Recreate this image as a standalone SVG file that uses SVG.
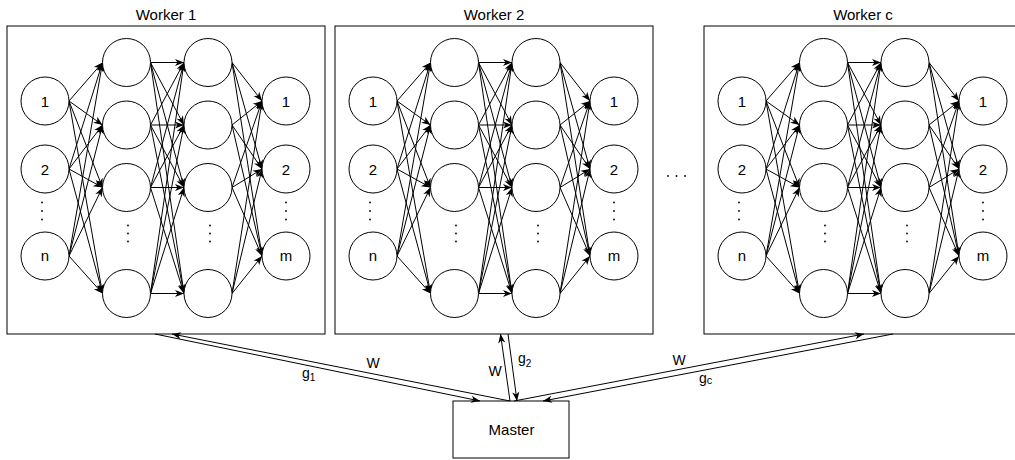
<svg xmlns="http://www.w3.org/2000/svg" width="1015" height="460" viewBox="0 0 1015 460">
  <defs>
    <style>
      .box { fill: #ffffff; stroke: #000000; stroke-width: 1; }
      .node circle { fill: #ffffff; stroke: #000000; stroke-width: 1; }
      .e { fill: none; stroke: #000000; stroke-width: 1; marker-end: url(#arr); }
      text { font-family: "Liberation Sans", Arial, Helvetica, sans-serif; fill: #000000; }
      .title { font-size: 15px; text-anchor: middle; }
      .lbl { font-size: 15px; text-anchor: middle; }
      .wl { font-size: 14px; }
      .dot { fill: #000000; }
    </style>
    <marker id="arr" viewBox="-10 -5 11 10" refX="0" refY="0" markerWidth="11" markerHeight="10" markerUnits="userSpaceOnUse" orient="auto">
      <path d="M0,0 L-9,-3.6 L-6.5,0 L-9,3.6 Z" fill="#000000"/>
    </marker>
  </defs>

  <rect width="1015" height="460" fill="#ffffff"/>

  <!-- Worker 1 -->
  <g id="worker-1" transform="translate(7,0)">
    <rect class="box" x="0" y="26" width="318" height="308"/>
    <text class="title" x="159" y="19.5">Worker 1</text>
    <g id="w1-edges">
      <path class="e" d="M62 101L95.5 62.5"/><path class="e" d="M62 101L95.5 125"/><path class="e" d="M62 101L95.5 187.5"/><path class="e" d="M62 101L95.5 293.5"/>
      <path class="e" d="M62 169L95.5 62.5"/><path class="e" d="M62 169L95.5 125"/><path class="e" d="M62 169L95.5 187.5"/><path class="e" d="M62 169L95.5 293.5"/>
      <path class="e" d="M62 256L95.5 62.5"/><path class="e" d="M62 256L95.5 125"/><path class="e" d="M62 256L95.5 187.5"/><path class="e" d="M62 256L95.5 293.5"/>
      <path class="e" d="M143.5 62.5L177 62.5"/><path class="e" d="M143.5 62.5L177 125"/><path class="e" d="M143.5 62.5L177 187.5"/><path class="e" d="M143.5 62.5L177 293.5"/>
      <path class="e" d="M143.5 125L177 62.5"/><path class="e" d="M143.5 125L177 125"/><path class="e" d="M143.5 125L177 187.5"/><path class="e" d="M143.5 125L177 293.5"/>
      <path class="e" d="M143.5 187.5L177 62.5"/><path class="e" d="M143.5 187.5L177 125"/><path class="e" d="M143.5 187.5L177 187.5"/><path class="e" d="M143.5 187.5L177 293.5"/>
      <path class="e" d="M143.5 293.5L177 62.5"/><path class="e" d="M143.5 293.5L177 125"/><path class="e" d="M143.5 293.5L177 187.5"/><path class="e" d="M143.5 293.5L177 293.5"/>
      <path class="e" d="M225 62.5L255 101"/><path class="e" d="M225 62.5L255 169"/><path class="e" d="M225 62.5L255 256"/>
      <path class="e" d="M225 125L255 101"/><path class="e" d="M225 125L255 169"/><path class="e" d="M225 125L255 256"/>
      <path class="e" d="M225 187.5L255 101"/><path class="e" d="M225 187.5L255 169"/><path class="e" d="M225 187.5L255 256"/>
      <path class="e" d="M225 293.5L255 101"/><path class="e" d="M225 293.5L255 169"/><path class="e" d="M225 293.5L255 256"/>
    </g>
    <g id="w1-in-1" class="node"><circle cx="38" cy="101" r="24"/><text class="lbl" x="38" y="106.5">1</text></g>
    <g id="w1-in-2" class="node"><circle cx="38" cy="169" r="24"/><text class="lbl" x="38" y="174.5">2</text></g>
    <g id="w1-in-n" class="node"><circle cx="38" cy="256" r="24"/><text class="lbl" x="38" y="261">n</text></g>
    <g id="w1-h1-1" class="node"><circle cx="119.5" cy="62.5" r="24"/></g>
    <g id="w1-h1-2" class="node"><circle cx="119.5" cy="125" r="24"/></g>
    <g id="w1-h1-3" class="node"><circle cx="119.5" cy="187.5" r="24"/></g>
    <g id="w1-h1-k" class="node"><circle cx="119.5" cy="293.5" r="24"/></g>
    <g id="w1-h2-1" class="node"><circle cx="201" cy="62.5" r="24"/></g>
    <g id="w1-h2-2" class="node"><circle cx="201" cy="125" r="24"/></g>
    <g id="w1-h2-3" class="node"><circle cx="201" cy="187.5" r="24"/></g>
    <g id="w1-h2-k" class="node"><circle cx="201" cy="293.5" r="24"/></g>
    <g id="w1-out-1" class="node"><circle cx="279" cy="101" r="24"/><text class="lbl" x="279" y="106.5">1</text></g>
    <g id="w1-out-2" class="node"><circle cx="279" cy="169" r="24"/><text class="lbl" x="279" y="174.5">2</text></g>
    <g id="w1-out-m" class="node"><circle cx="279" cy="256" r="24"/><text class="lbl" x="279" y="261">m</text></g>
    <g id="w1-ellipses">
      <circle class="dot" cx="35" cy="202.5" r="0.9"/><circle class="dot" cx="35" cy="211" r="0.9"/><circle class="dot" cx="35" cy="219.5" r="0.9"/>
      <circle class="dot" cx="121" cy="225.5" r="0.9"/><circle class="dot" cx="121" cy="233.5" r="0.9"/><circle class="dot" cx="121" cy="241.5" r="0.9"/>
      <circle class="dot" cx="203" cy="225.5" r="0.9"/><circle class="dot" cx="203" cy="233.5" r="0.9"/><circle class="dot" cx="203" cy="241.5" r="0.9"/>
      <circle class="dot" cx="279" cy="202.5" r="0.9"/><circle class="dot" cx="279" cy="211" r="0.9"/><circle class="dot" cx="279" cy="219.5" r="0.9"/>
    </g>
  </g>

  <!-- Worker 2 -->
  <g id="worker-2" transform="translate(335,0)">
    <rect class="box" x="0" y="26" width="318" height="308"/>
    <text class="title" x="159" y="19.5">Worker 2</text>
    <g id="w2-edges">
      <path class="e" d="M62 101L95.5 62.5"/><path class="e" d="M62 101L95.5 125"/><path class="e" d="M62 101L95.5 187.5"/><path class="e" d="M62 101L95.5 293.5"/>
      <path class="e" d="M62 169L95.5 62.5"/><path class="e" d="M62 169L95.5 125"/><path class="e" d="M62 169L95.5 187.5"/><path class="e" d="M62 169L95.5 293.5"/>
      <path class="e" d="M62 256L95.5 62.5"/><path class="e" d="M62 256L95.5 125"/><path class="e" d="M62 256L95.5 187.5"/><path class="e" d="M62 256L95.5 293.5"/>
      <path class="e" d="M143.5 62.5L177 62.5"/><path class="e" d="M143.5 62.5L177 125"/><path class="e" d="M143.5 62.5L177 187.5"/><path class="e" d="M143.5 62.5L177 293.5"/>
      <path class="e" d="M143.5 125L177 62.5"/><path class="e" d="M143.5 125L177 125"/><path class="e" d="M143.5 125L177 187.5"/><path class="e" d="M143.5 125L177 293.5"/>
      <path class="e" d="M143.5 187.5L177 62.5"/><path class="e" d="M143.5 187.5L177 125"/><path class="e" d="M143.5 187.5L177 187.5"/><path class="e" d="M143.5 187.5L177 293.5"/>
      <path class="e" d="M143.5 293.5L177 62.5"/><path class="e" d="M143.5 293.5L177 125"/><path class="e" d="M143.5 293.5L177 187.5"/><path class="e" d="M143.5 293.5L177 293.5"/>
      <path class="e" d="M225 62.5L255 101"/><path class="e" d="M225 62.5L255 169"/><path class="e" d="M225 62.5L255 256"/>
      <path class="e" d="M225 125L255 101"/><path class="e" d="M225 125L255 169"/><path class="e" d="M225 125L255 256"/>
      <path class="e" d="M225 187.5L255 101"/><path class="e" d="M225 187.5L255 169"/><path class="e" d="M225 187.5L255 256"/>
      <path class="e" d="M225 293.5L255 101"/><path class="e" d="M225 293.5L255 169"/><path class="e" d="M225 293.5L255 256"/>
    </g>
    <g id="w2-in-1" class="node"><circle cx="38" cy="101" r="24"/><text class="lbl" x="38" y="106.5">1</text></g>
    <g id="w2-in-2" class="node"><circle cx="38" cy="169" r="24"/><text class="lbl" x="38" y="174.5">2</text></g>
    <g id="w2-in-n" class="node"><circle cx="38" cy="256" r="24"/><text class="lbl" x="38" y="261">n</text></g>
    <g id="w2-h1-1" class="node"><circle cx="119.5" cy="62.5" r="24"/></g>
    <g id="w2-h1-2" class="node"><circle cx="119.5" cy="125" r="24"/></g>
    <g id="w2-h1-3" class="node"><circle cx="119.5" cy="187.5" r="24"/></g>
    <g id="w2-h1-k" class="node"><circle cx="119.5" cy="293.5" r="24"/></g>
    <g id="w2-h2-1" class="node"><circle cx="201" cy="62.5" r="24"/></g>
    <g id="w2-h2-2" class="node"><circle cx="201" cy="125" r="24"/></g>
    <g id="w2-h2-3" class="node"><circle cx="201" cy="187.5" r="24"/></g>
    <g id="w2-h2-k" class="node"><circle cx="201" cy="293.5" r="24"/></g>
    <g id="w2-out-1" class="node"><circle cx="279" cy="101" r="24"/><text class="lbl" x="279" y="106.5">1</text></g>
    <g id="w2-out-2" class="node"><circle cx="279" cy="169" r="24"/><text class="lbl" x="279" y="174.5">2</text></g>
    <g id="w2-out-m" class="node"><circle cx="279" cy="256" r="24"/><text class="lbl" x="279" y="261">m</text></g>
    <g id="w2-ellipses">
      <circle class="dot" cx="35" cy="202.5" r="0.9"/><circle class="dot" cx="35" cy="211" r="0.9"/><circle class="dot" cx="35" cy="219.5" r="0.9"/>
      <circle class="dot" cx="121" cy="225.5" r="0.9"/><circle class="dot" cx="121" cy="233.5" r="0.9"/><circle class="dot" cx="121" cy="241.5" r="0.9"/>
      <circle class="dot" cx="203" cy="225.5" r="0.9"/><circle class="dot" cx="203" cy="233.5" r="0.9"/><circle class="dot" cx="203" cy="241.5" r="0.9"/>
      <circle class="dot" cx="279" cy="202.5" r="0.9"/><circle class="dot" cx="279" cy="211" r="0.9"/><circle class="dot" cx="279" cy="219.5" r="0.9"/>
    </g>
  </g>

  <!-- gap between worker 2 and worker c -->
  <g id="gap-ellipsis">
    <circle class="dot" cx="668" cy="176" r="0.9"/><circle class="dot" cx="676.5" cy="176" r="0.9"/><circle class="dot" cx="685" cy="176" r="0.9"/>
  </g>

  <!-- Worker c -->
  <g id="worker-c" transform="translate(704,0)">
    <rect class="box" x="0" y="26" width="318" height="308"/>
    <text class="title" x="159" y="19.5">Worker c</text>
    <g id="wc-edges">
      <path class="e" d="M62 101L95.5 62.5"/><path class="e" d="M62 101L95.5 125"/><path class="e" d="M62 101L95.5 187.5"/><path class="e" d="M62 101L95.5 293.5"/>
      <path class="e" d="M62 169L95.5 62.5"/><path class="e" d="M62 169L95.5 125"/><path class="e" d="M62 169L95.5 187.5"/><path class="e" d="M62 169L95.5 293.5"/>
      <path class="e" d="M62 256L95.5 62.5"/><path class="e" d="M62 256L95.5 125"/><path class="e" d="M62 256L95.5 187.5"/><path class="e" d="M62 256L95.5 293.5"/>
      <path class="e" d="M143.5 62.5L177 62.5"/><path class="e" d="M143.5 62.5L177 125"/><path class="e" d="M143.5 62.5L177 187.5"/><path class="e" d="M143.5 62.5L177 293.5"/>
      <path class="e" d="M143.5 125L177 62.5"/><path class="e" d="M143.5 125L177 125"/><path class="e" d="M143.5 125L177 187.5"/><path class="e" d="M143.5 125L177 293.5"/>
      <path class="e" d="M143.5 187.5L177 62.5"/><path class="e" d="M143.5 187.5L177 125"/><path class="e" d="M143.5 187.5L177 187.5"/><path class="e" d="M143.5 187.5L177 293.5"/>
      <path class="e" d="M143.5 293.5L177 62.5"/><path class="e" d="M143.5 293.5L177 125"/><path class="e" d="M143.5 293.5L177 187.5"/><path class="e" d="M143.5 293.5L177 293.5"/>
      <path class="e" d="M225 62.5L255 101"/><path class="e" d="M225 62.5L255 169"/><path class="e" d="M225 62.5L255 256"/>
      <path class="e" d="M225 125L255 101"/><path class="e" d="M225 125L255 169"/><path class="e" d="M225 125L255 256"/>
      <path class="e" d="M225 187.5L255 101"/><path class="e" d="M225 187.5L255 169"/><path class="e" d="M225 187.5L255 256"/>
      <path class="e" d="M225 293.5L255 101"/><path class="e" d="M225 293.5L255 169"/><path class="e" d="M225 293.5L255 256"/>
    </g>
    <g id="wc-in-1" class="node"><circle cx="38" cy="101" r="24"/><text class="lbl" x="38" y="106.5">1</text></g>
    <g id="wc-in-2" class="node"><circle cx="38" cy="169" r="24"/><text class="lbl" x="38" y="174.5">2</text></g>
    <g id="wc-in-n" class="node"><circle cx="38" cy="256" r="24"/><text class="lbl" x="38" y="261">n</text></g>
    <g id="wc-h1-1" class="node"><circle cx="119.5" cy="62.5" r="24"/></g>
    <g id="wc-h1-2" class="node"><circle cx="119.5" cy="125" r="24"/></g>
    <g id="wc-h1-3" class="node"><circle cx="119.5" cy="187.5" r="24"/></g>
    <g id="wc-h1-k" class="node"><circle cx="119.5" cy="293.5" r="24"/></g>
    <g id="wc-h2-1" class="node"><circle cx="201" cy="62.5" r="24"/></g>
    <g id="wc-h2-2" class="node"><circle cx="201" cy="125" r="24"/></g>
    <g id="wc-h2-3" class="node"><circle cx="201" cy="187.5" r="24"/></g>
    <g id="wc-h2-k" class="node"><circle cx="201" cy="293.5" r="24"/></g>
    <g id="wc-out-1" class="node"><circle cx="279" cy="101" r="24"/><text class="lbl" x="279" y="106.5">1</text></g>
    <g id="wc-out-2" class="node"><circle cx="279" cy="169" r="24"/><text class="lbl" x="279" y="174.5">2</text></g>
    <g id="wc-out-m" class="node"><circle cx="279" cy="256" r="24"/><text class="lbl" x="279" y="261">m</text></g>
    <g id="wc-ellipses">
      <circle class="dot" cx="35" cy="202.5" r="0.9"/><circle class="dot" cx="35" cy="211" r="0.9"/><circle class="dot" cx="35" cy="219.5" r="0.9"/>
      <circle class="dot" cx="121" cy="225.5" r="0.9"/><circle class="dot" cx="121" cy="233.5" r="0.9"/><circle class="dot" cx="121" cy="241.5" r="0.9"/>
      <circle class="dot" cx="203" cy="225.5" r="0.9"/><circle class="dot" cx="203" cy="233.5" r="0.9"/><circle class="dot" cx="203" cy="241.5" r="0.9"/>
      <circle class="dot" cx="279" cy="202.5" r="0.9"/><circle class="dot" cx="279" cy="211" r="0.9"/><circle class="dot" cx="279" cy="219.5" r="0.9"/>
    </g>
  </g>

  <!-- Master node -->
  <g id="master">
    <rect class="box" x="453" y="401" width="116" height="57"/>
    <text class="title" x="511.5" y="434.5">Master</text>
  </g>

  <!-- weight / gradient exchange between master and workers -->
  <g id="master-links">
    <path class="e" d="M510 401L172 334"/>
    <path class="e" d="M155 334L480 401"/>
    <path class="e" d="M510 401L500.5 334"/>
    <path class="e" d="M508 334L517 401"/>
    <path class="e" d="M514 401L864 334"/>
    <path class="e" d="M893 334L543 401"/>
  </g>

  <g id="link-labels">
    <text class="wl" x="373" y="368" text-anchor="middle">W</text>
    <text class="wl" x="302" y="378">g<tspan font-size="10" dy="3">1</tspan></text>
    <text class="wl" x="495" y="376" text-anchor="middle">W</text>
    <text class="wl" x="518" y="362.5">g<tspan font-size="10" dy="4">2</tspan></text>
    <text class="wl" x="679" y="365" text-anchor="middle">W</text>
    <text class="wl" x="699" y="383">g<tspan font-size="11" dy="1">c</tspan></text>
  </g>
</svg>
